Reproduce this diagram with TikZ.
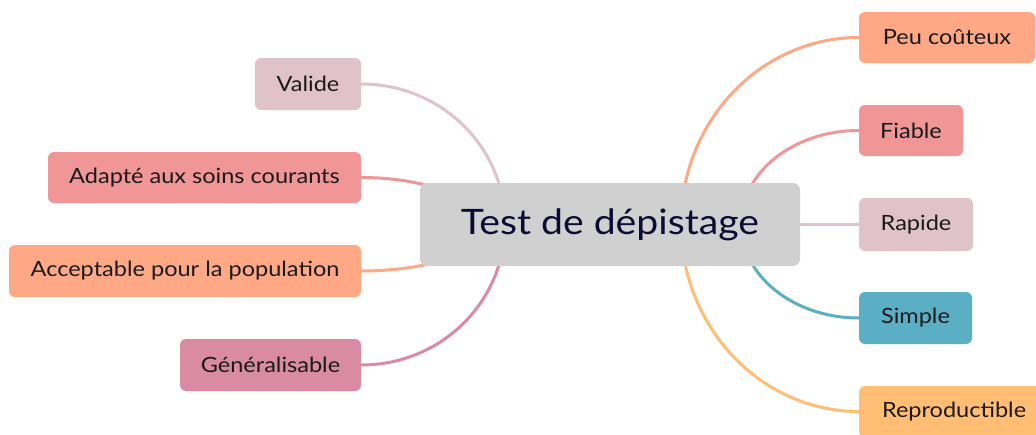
\documentclass[tikz,border=0pt]{standalone}
\usepackage{fontspec}
\setmainfont{Lato}[FakeStretch=1.12]
\usetikzlibrary{backgrounds}
\definecolor{cPeach}{HTML}{FFA886}
\definecolor{cRose}{HTML}{F09696}
\definecolor{cPink}{HTML}{E0C3CA}
\definecolor{cTeal}{HTML}{5BAFC4}
\definecolor{cApricot}{HTML}{FFBE73}
\definecolor{cMauve}{HTML}{D98BA3}
\definecolor{cGrey}{HTML}{D0D0D0}
\definecolor{cNavy}{HTML}{0B0B35}
\definecolor{cInk}{HTML}{1A1A1A}
\tikzset{
  leaf/.style={rectangle, rounded corners=6pt, inner sep=0pt, text=cInk,
    font=\fontsize{21}{25}\selectfont, align=center},
  hub/.style={rectangle, rounded corners=7pt, inner sep=0pt, fill=cGrey, text=cNavy,
    font=\fontsize{35}{40}\selectfont, minimum width=380pt, minimum height=83pt},
  link/.style={line width=3pt}
}
\begin{document}
\begin{tikzpicture}[x=1pt,y=-1pt]
\useasboundingbox (0,0) rectangle (1036,434);
\node[hub] (c) at (610,224.5) {Test de dépistage};
\node[leaf, fill=cPeach, minimum width=176pt, minimum height=51pt] (pc) at (947,37.5) {Peu coûteux};
\node[leaf, fill=cRose, minimum width=104pt, minimum height=51pt] (fi) at (911,130.5) {Fiable};
\node[leaf, fill=cPink, minimum width=114pt, minimum height=53pt] (ra) at (916,224.5) {Rapide};
\node[leaf, fill=cTeal, minimum width=113pt, minimum height=52pt] (si) at (915.5,318) {Simple};
\node[leaf, fill=cApricot, minimum width=186pt, minimum height=51pt, text width=166pt, align=left] (re) at (952,411.5) {\hspace*{13pt}Reproductible};
\node[leaf, fill=cPink, minimum width=106pt, minimum height=52pt] (va) at (308,84) {Valide};
\node[leaf, fill=cRose, minimum width=313pt, minimum height=51pt] (ad) at (204.5,177.5) {Adapté aux soins courants};
\node[leaf, fill=cPeach, minimum width=352pt, minimum height=52pt] (ac) at (185,271) {Acceptable pour la population};
\node[leaf, fill=cMauve, minimum width=181pt, minimum height=52pt] (ge) at (270.5,365) {Généralisable};
\coordinate (eva) at (505,224);
\coordinate (ead) at (478,224);
\coordinate (eac) at (490,224);
\coordinate (ege) at (505,224);
\coordinate (epc) at (681,224);
\coordinate (efi) at (741,224);
\coordinate (esi) at (741,224);
\coordinate (ere) at (681,224);
\begin{scope}[on background layer]
\fill[white] (0,0) rectangle (1036,434);
\draw[link, cPink] (va.east) .. controls +(80,0) and +(0,-77) .. (eva);
\draw[link, cRose] (ad.east) .. controls +(65,0) and +(0,-26) .. (ead);
\draw[link, cPeach] (ac.east) .. controls +(71,0) and +(0,26) .. (eac);
\draw[link, cMauve] (ge.east) .. controls +(80,0) and +(0,78) .. (ege);
\draw[link, cPeach] (pc.west) .. controls +(-98,0) and +(0,-103) .. (epc);
\draw[link, cRose] (fi.west) .. controls +(-65,0) and +(0,-52) .. (efi);
\draw[link, cPink] (c.east) -- (ra.west);
\draw[link, cTeal] (si.west) .. controls +(-65,0) and +(0,52) .. (esi);
\draw[link, cApricot] (re.west) .. controls +(-98,0) and +(0,103) .. (ere);
\end{scope}
\end{tikzpicture}
\end{document}
